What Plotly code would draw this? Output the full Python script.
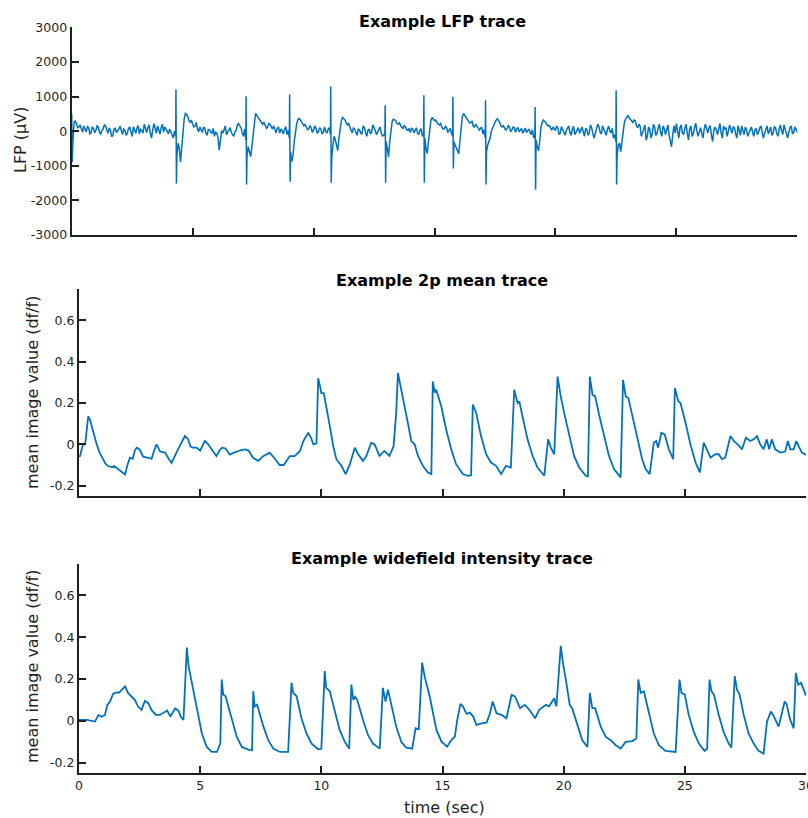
import plotly.graph_objects as go

# ---------------- DATA ----------------
# LFP trace (µV): samples at 0.0, 0.1, ... 30.0 s
lfp_base_values = [
    500, 250, 200, 120, 60, 150, -20, 100, -50, 80,
    20, 120, -80, 60, 150, -60, 40, -120, 80, 0,
    140, -100, 30, -60, 120, -150, 50, 90, -80, 20,
    200, -40, 180, -200, 220, -60, 40, 100, -30, 60,
    -80, -30, -200, -150, -350, -890, 50, 510, 420, 260,
    200, 150, 60, 120, -40, 90, -120, 40, -60, -150,
    -50, -550, 20, 80, -100, 60, -40, -150, 30, 220,
    100, -150, -250, -450, -740, -100, 510, 420, 300, 200,
    180, 120, 200, 60, 40, 80, -60, 20, 50, -100,
    -200, -880, -300, 200, 370, 280, 150, 120, 60, 100,
    30, 80, -20, 60, -40, 0, 50, -100, -400, -250,
    -560, 150, 395, 320, 180, 100, -50, 60, -120, 40,
    -80, 100, -150, 60, -40, 120, -100, 30, -60, -120,
    -300, -740, 100, 350, 300, 200, 170, 80, 120, 20,
    -40, 60, 20, -60, 40, -150, -200, -650, 100, 395,
    300, 250, 180, 120, 60, 100, 20, -60, -300, -500,
    -650, 200, 510, 400, 300, 250, 150, 200, 100, 80,
    -80, -200, -400, -200, 100, 250, 365, 250, 120, 100,
    80, 120, 40, 100, 60, -20, 80, 30, -40, 60,
    -100, -200, -250, -570, 100, 320, 250, 150, 80, 120,
    20, 100, -60, 40, -120, 80, -40, 60, -100, 30,
    -60, 120, -150, 50, -40, 90, -200, 40, 130, -80,
    60, -120, 140, -50, -200, -300, -400, -590, 100, 350,
    460, 350, 250, 300, 100, 150, -50, 180, -150, 60,
    -100, 120, -60, 200, -150, 80, 30, -120, -450, 150,
    220, -200, 180, -100, 200, -250, 150, -80, 230, -150,
    100, -200, 200, -50, 160, -300, 120, -100, 220, -200,
    60, -150, 180, -60, 100, -200, 50, 150, -100, 40,
    -50, 120, -150, 80, -30, 150, -200, 60, -80, 120,
    -60, 100, -150, 180, -100, 50, -200, 100, -80, 120,
    -50,
]
# LFP samples at 0.05, 0.15, ... 29.95 s
lfp_mid_values = [
    -300, 300, 100, 180, -30, 60, 130, -80, 120, -40,
    150, -40, 20, 180, 40, 90, -160, 60, -40, 60,
    -20, 60, -120, 80, -20, 130, -60, 160, 50, -60,
    60, 100, -60, 40, 80, 150, -80, 200, 120, -40,
    60, -150, 0, -700, -500, -400, 350, 480, 300, 320,
    120, 250, -20, 40, 110, -60, 50, -30, 80, -30,
    -200, -250, -60, 150, -20, 100, -100, -20, 180, 150,
    -50, 60, -700, -600, -450, 300, 460, 350, 230, 260,
    80, 220, 100, 150, -50, 120, 60, -80, 130, 20,
    -600, -700, 0, 330, 330, 200, 200, 40, 160, -40,
    150, -60, 100, -80, 120, -60, 100, -800, -150, -450,
    -200, 300, 350, 240, 220, 30, 100, -40, 60, -60,
    150, -40, 20, -80, 180, 20, -40, 120, -140, -50,
    -500, -300, 280, 320, 220, 240, 100, 160, 40, 80,
    80, -50, 100, -100, 60, -100, -500, -300, 300, 340,
    320, 200, 220, 60, 140, -40, 80, -150, -400, -600,
    -300, 420, 450, 330, 240, 280, 120, 160, 30, 120,
    40, -600, -300, 0, 180, 320, 300, 150, 160, 20,
    160, -20, 120, -30, 110, 30, -60, 90, 20, -20,
    40, -120, -450, -300, 250, 280, 180, 160, 30, 60,
    150, -100, 130, -60, 20, 150, -120, 140, -40, 100,
    60, -20, 80, -120, 180, -80, -60, 200, -40, 150,
    -60, 60, 0, 80, -100, -700, -350, -300, 250, 420,
    380, 300, 320, 150, 200, -150, 100, -260, 120, -200,
    200, -120, 100, -40, 150, -100, 180, -300, -100, -50,
    0, 100, -60, 80, -50, 60, -150, 100, 0, -20,
    -60, 60, 80, 100, -120, 20, 40, 60, -50, 150,
    100, 0, 60, 120, -80, 160, -120, 20, 120, -150,
    60, -20, 40, -100, 100, -40, -60, 150, 40, -120,
    120, -60, 60, 20, 180, -100, -40, 150, -40, 60,
]
lfp_step = 0.1
# sharp spike samples (time s, value µV)
lfp_spike_times = [0.02, 4.31, 4.33, 7.21, 7.23, 9.01, 9.03, 10.71, 10.73,
                   12.96, 12.98, 14.56, 14.58, 15.76, 15.78, 17.11, 17.13,
                   19.16, 19.18, 22.51, 22.53]
lfp_spike_values = [-900, 1200, -1510, 1010, -1540, 1060, -1460, 1300, -1490,
                    750, -1490, 1040, -1490, 990, -1080, 895, -1540,
                    700, -1690, 1185, -1540]

# 2p mean trace (df/f)
tp_time = [0.0, 0.04, 0.12, 0.18, 0.26, 0.32, 0.38, 0.45, 0.52, 0.62, 0.73, 0.85, 1.0, 1.1, 1.2,
           1.35, 1.45, 1.55, 1.7, 1.8, 1.9, 2.0, 2.1, 2.22, 2.3, 2.38, 2.5, 2.65, 2.85, 3.0,
           3.1, 3.2, 3.35, 3.55, 3.7, 3.82, 4.02, 4.2, 4.37, 4.5, 4.6, 4.68, 4.85, 5.0, 5.19,
           5.3, 5.5, 5.67, 5.8, 5.9, 6.05, 6.22, 6.4, 6.63, 6.85, 7.0, 7.18, 7.4, 7.6, 7.87,
           8.05, 8.28, 8.45, 8.7, 8.9, 9.12, 9.26, 9.46, 9.58, 9.67, 9.8,
           9.87, 9.93, 10.0, 10.1, 10.21, 10.35, 10.49, 10.62, 10.83, 11.0, 11.17, 11.38,
           11.52, 11.72, 11.86, 12.06, 12.2, 12.4, 12.6, 12.81, 12.98, 13.09, 13.16, 13.3,
           13.44, 13.57, 13.71, 13.85, 13.99, 14.19, 14.4, 14.54, 14.6, 14.68, 14.74, 14.8,
           14.95, 15.15, 15.36, 15.56, 15.84, 16.05, 16.18, 16.25, 16.39, 16.59, 16.8, 17.0,
           17.21, 17.42, 17.62, 17.82, 17.96, 18.1, 18.17, 18.3, 18.51, 18.72, 18.92, 19.2,
           19.36, 19.47, 19.61, 19.75, 19.88, 20.02, 20.23, 20.43, 20.64, 20.91, 21.0, 21.08,
           21.19, 21.3, 21.46, 21.67, 21.87, 22.08, 22.35, 22.45, 22.56, 22.67, 22.83, 23.03,
           23.24, 23.38, 23.55, 23.72, 23.82, 23.9, 24.03, 24.17, 24.34, 24.52, 24.59, 24.73,
           24.82, 25.03, 25.23, 25.44, 25.62, 25.78, 25.92, 26.06, 26.26, 26.4, 26.53, 26.67,
           26.88, 27.02, 27.22, 27.36, 27.52, 27.7, 27.84, 27.98, 28.11, 28.25, 28.38, 28.48,
           28.59, 28.73, 28.94, 29.14, 29.25, 29.35, 29.49, 29.6, 29.7, 29.83, 30.0]
tp_value = [-0.06, -0.057, -0.02, 0.0, 0.005, 0.09, 0.135, 0.12, 0.09, 0.04, 0.0, -0.04, -0.07,
            -0.095, -0.105, -0.11, -0.105, -0.115, -0.13, -0.14, -0.146, -0.1, -0.065, -0.07,
            -0.03, -0.016, -0.025, -0.06, -0.065, -0.07, -0.03, 0.0, -0.035, -0.04, -0.07,
            -0.09, -0.04, 0.0, 0.04, 0.025, -0.01, -0.016, -0.016, -0.03, 0.016, 0.005, -0.03,
            -0.057, -0.03, -0.016, -0.02, -0.05, -0.04, -0.03, -0.025, -0.03, -0.065, -0.08,
            -0.057, -0.04, -0.065, -0.1, -0.1, -0.057, -0.057, -0.032, 0.016, 0.056, 0.03,
            0.0, 0.005,
            0.32, 0.29, 0.248, 0.248, 0.184, 0.088, -0.008, -0.072, -0.104, -0.144, -0.1,
            -0.016, -0.048, -0.08, -0.056, 0.008, 0.0, -0.056, -0.032, -0.056, -0.01, 0.152,
            0.345, 0.256, 0.184, 0.104, 0.016, 0.0, -0.056, -0.104, -0.136, -0.144, 0.304,
            0.25, 0.264, 0.24, 0.184, 0.072, -0.024, -0.096, -0.144, -0.152, -0.15, 0.192,
            0.152, 0.04, -0.048, -0.088, -0.104, -0.144, -0.104, -0.112, 0.264, 0.2, 0.208,
            0.136, 0.024, -0.056, -0.112, -0.152, 0.024, -0.016, -0.048, 0.328, 0.232, 0.152,
            0.04, -0.056, -0.112, -0.152, -0.155, 0.328, 0.24, 0.232, 0.144, 0.04, -0.056,
            -0.12, -0.16, 0.312, 0.232, 0.224, 0.144, 0.032, -0.072, -0.12, -0.144, 0.008,
            0.016, -0.016, 0.056, 0.048, -0.024, -0.072, 0.272, 0.208, 0.2, 0.104, 0.0,
            -0.088, -0.136, 0.008, -0.024, -0.064, -0.048, -0.048, -0.072, -0.064, 0.04,
            0.016, -0.005, -0.024, 0.032, 0.016, 0.024, 0.04, 0.0, -0.024, 0.024, -0.024,
            0.024, -0.024, -0.04, -0.035, 0.016, -0.024, -0.024, 0.016, -0.01, -0.04, -0.05]

# widefield intensity trace (df/f)
wf_time = [0.0, 0.32, 0.66, 0.8, 0.94, 1.07, 1.17, 1.28, 1.41, 1.55, 1.66, 1.76, 1.9, 2.03, 2.17,
           2.31, 2.44, 2.58, 2.72, 2.86, 2.99, 3.17, 3.34, 3.54, 3.64, 3.77, 3.97, 4.1, 4.2,
           4.31, 4.45, 4.52, 4.66, 4.86, 5.07, 5.27, 5.48, 5.69, 5.83, 5.89, 5.95, 6.05, 6.3,
           6.51, 6.72, 6.99, 7.14, 7.19, 7.25, 7.35, 7.61, 7.81, 8.02, 8.29, 8.63, 8.77, 8.84,
           8.98, 9.18, 9.39, 9.6, 9.87, 10.0, 10.14, 10.2, 10.35, 10.56, 10.76, 10.97, 11.15,
           11.24, 11.32, 11.4, 11.48, 11.72, 11.93, 12.13, 12.41, 12.54, 12.65, 12.75, 12.88,
           13.09, 13.3, 13.5, 13.75, 13.89, 14.02, 14.16, 14.26, 14.47, 14.75, 14.96, 15.19,
           15.37, 15.51, 15.61, 15.74, 15.85, 15.99, 16.13, 16.27, 16.4, 16.61, 16.82, 16.96,
           17.07, 17.23, 17.44, 17.64, 17.85, 17.99, 18.2, 18.4, 18.61, 18.82, 18.99, 19.27,
           19.4, 19.61, 19.7, 19.88, 19.97, 20.09, 20.25, 20.35, 20.57, 20.77, 20.98, 21.08,
           21.18, 21.3, 21.53, 21.74, 21.94, 22.15, 22.35, 22.56, 22.83, 23.0, 23.08, 23.18,
           23.31, 23.52, 23.72, 23.93, 24.2, 24.62, 24.78, 24.86, 25.0, 25.16, 25.37, 25.58,
           25.81, 25.92, 26.02, 26.1, 26.2, 26.4, 26.6, 26.81, 26.92, 27.06, 27.15, 27.26,
           27.43, 27.63, 27.84, 28.04, 28.25, 28.39, 28.55, 28.68, 28.87, 29.12, 29.2, 29.35,
           29.49, 29.58, 29.68, 29.8, 29.97, 30.0]
wf_value = [0.005, 0.005, -0.003, 0.029, 0.02, 0.029, 0.077, 0.093, 0.13, 0.136, 0.136, 0.149,
            0.165, 0.133, 0.117, 0.1, 0.069, 0.053, 0.096, 0.085, 0.053, 0.029, 0.029, 0.045,
            0.05, 0.021, 0.061, 0.05, 0.02, 0.005, 0.351, 0.263, 0.182, 0.053, -0.06, -0.124,
            -0.148, -0.148, -0.108, 0.198, 0.126, 0.118, 0.005, -0.076, -0.124, -0.137, -0.14,
            0.142, 0.07, 0.078, -0.027, -0.092, -0.132, -0.148, -0.148, 0.182, 0.134, 0.118,
            0.013, -0.06, -0.108, -0.135, -0.133, 0.238, 0.158, 0.142, 0.045, -0.044, -0.1,
            -0.132, 0.174, 0.101, 0.115, 0.101, 0.005, -0.068, -0.108, -0.132, 0.158, 0.093,
            0.15, 0.078, -0.027, -0.1, -0.127, -0.132, -0.035, -0.04, 0.279, 0.214, 0.118,
            -0.043, -0.099, -0.123, -0.091, -0.075, 0.005, 0.082, 0.069, 0.034, 0.04, 0.021,
            -0.019, -0.011, -0.008, 0.037, 0.093, 0.037, 0.029, 0.013, 0.125, 0.117, 0.061,
            0.077, 0.05, 0.013, 0.053, 0.077, 0.07, 0.109, 0.069, 0.359, 0.278, 0.198, 0.077,
            0.061, -0.02, -0.092, -0.124, 0.134, 0.061, 0.061, -0.027, -0.076, -0.092, -0.116,
            -0.132, -0.1, -0.096, -0.084, 0.198, 0.134, 0.142, 0.037, -0.06, -0.116, -0.143,
            -0.148, 0.198, 0.134, 0.126, 0.029, -0.052, -0.108, -0.143, -0.133, 0.198, 0.142,
            0.126, 0.029, -0.052, -0.108, -0.127, 0.214, 0.15, 0.126, 0.029, -0.06, -0.108,
            -0.143, -0.156, -0.003, 0.045, 0.021, -0.027, 0.093, 0.08, 0.005, -0.035, 0.23,
            0.174, 0.182, 0.126, 0.12]

x_ticks = [0, 5, 10, 15, 20, 25, 30]
x_ticklabels = ["0", "5", "10", "15", "20", "25", "30"]
lfp_ticks = [-3000, -2000, -1000, 0, 1000, 2000, 3000]
lfp_ticklabels = ["-3000", "-2000", "-1000", "0", "1000", "2000", "3000"]
df_ticks = [-0.2, 0, 0.2, 0.4, 0.6]
df_ticklabels = ["-0.2", "0", "0.2", "0.4", "0.6"]

titles = ["Example LFP trace", "Example 2p mean trace", "Example widefield intensity trace"]

# ---------------- BUILD ----------------
pairs = [(round(i * lfp_step, 3), v) for i, v in enumerate(lfp_base_values)]
pairs += [(round(0.05 + i * lfp_step, 3), v) for i, v in enumerate(lfp_mid_values)]
pairs += list(zip(lfp_spike_times, lfp_spike_values))
pairs.sort(key=lambda p: p[0])
lfp_t = [p[0] for p in pairs]
lfp_v = [p[1] for p in pairs]

W, H = 808, 818
LINE = "#0072BD"
AX = "#1f1f1f"
FONT = "DejaVu Sans"


def px(x):
    return x / W


def py(y):
    return 1 - y / H


fig = go.Figure()
fig.add_trace(go.Scatter(x=lfp_t, y=lfp_v, mode="lines", xaxis="x", yaxis="y",
                         line=dict(color=LINE, width=1.5)))
fig.add_trace(go.Scatter(x=tp_time, y=tp_value, mode="lines", xaxis="x2", yaxis="y2",
                         line=dict(color=LINE, width=1.8)))
fig.add_trace(go.Scatter(x=wf_time, y=wf_value, mode="lines", xaxis="x3", yaxis="y3",
                         line=dict(color=LINE, width=1.8)))

common = dict(showline=True, linecolor=AX, linewidth=2.2, ticks="inside", ticklen=7,
              tickwidth=2, tickcolor=AX, showgrid=False, zeroline=False,
              tickfont=dict(family=FONT, size=12.5, color=AX), automargin=False,
              ticklabeloverflow="allow")

fig.update_layout(
    width=W, height=H, margin=dict(l=0, r=0, t=0, b=0),
    paper_bgcolor="white", plot_bgcolor="white", showlegend=False,
    font=dict(family=FONT, color=AX),
    xaxis=dict(domain=[px(71.7), px(797.3)], anchor="y", range=[0, 30],
               tickvals=x_ticks, showticklabels=False, **common),
    yaxis=dict(domain=[py(235), py(27.3)], anchor="x", range=[-3000, 3000],
               tickvals=lfp_ticks, ticktext=lfp_ticklabels, **common),
    xaxis2=dict(domain=[px(79), px(806)], anchor="y2", range=[0, 30],
                tickvals=x_ticks, showticklabels=False, **common),
    yaxis2=dict(domain=[py(496), py(289.3)], anchor="x2", range=[-0.25, 0.75],
                tickvals=df_ticks, ticktext=df_ticklabels, **common),
    xaxis3=dict(domain=[px(79), px(806)], anchor="y3", range=[0, 30],
                tickvals=x_ticks, ticktext=x_ticklabels, **common),
    yaxis3=dict(domain=[py(773.3), py(564)], anchor="x3", range=[-0.25, 0.75],
                tickvals=df_ticks, ticktext=df_ticklabels, **common),
)

ann = []
for title, yc in zip(titles, [21, 281, 558]):
    ann.append(dict(text="<b>%s</b>" % title, x=px(442), y=py(yc), xref="paper", yref="paper",
                    xanchor="center", yanchor="middle", showarrow=False,
                    font=dict(family=FONT, size=16, color="black")))
for label, xc, yc in [("LFP (µV)", 20, 140), ("mean image value (df/f)", 32, 393),
                      ("mean image value (df/f)", 32, 667)]:
    ann.append(dict(text=label, x=px(xc), y=py(yc), xref="paper", yref="paper",
                    xanchor="center", yanchor="middle", textangle=-90, showarrow=False,
                    font=dict(family=FONT, size=16, color=AX)))
ann.append(dict(text="time (sec)", x=px(444), y=py(807), xref="paper", yref="paper",
                xanchor="center", yanchor="middle", showarrow=False,
                font=dict(family=FONT, size=16, color=AX)))
fig.update_layout(annotations=ann)

fig.write_html("out.html")
